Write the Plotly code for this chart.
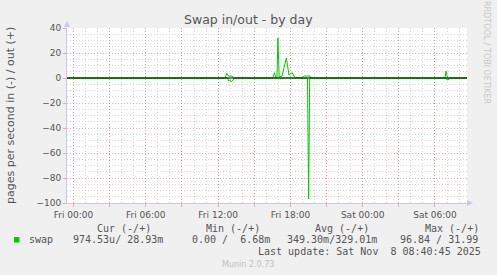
import plotly.graph_objects as go

# ---- data ----
out_times = [
    "2025-11-06 23:25", "2025-11-07 12:34", "2025-11-07 12:44", "2025-11-07 12:54",
    "2025-11-07 13:04", "2025-11-07 13:14", "2025-11-07 13:22", "2025-11-07 14:13",
    "2025-11-07 14:18", "2025-11-07 14:23", "2025-11-07 16:32", "2025-11-07 16:41",
    "2025-11-07 16:47", "2025-11-07 16:53", "2025-11-07 16:58", "2025-11-07 17:04",
    "2025-11-07 17:18", "2025-11-07 17:40", "2025-11-07 17:53", "2025-11-07 18:09",
    "2025-11-07 18:19", "2025-11-07 18:25", "2025-11-07 19:03", "2025-11-07 19:08",
    "2025-11-07 19:37", "2025-11-07 19:42", "2025-11-08 06:50", "2025-11-08 06:55",
    "2025-11-08 07:02", "2025-11-08 08:40",
]
out_vals = [
    0, 0, 3.7, 1.2,
    1.8, 0.6, 0, 0,
    0.5, 0, 0, 4.3,
    0.3, 0.3, 31.99, 1.0,
    1.5, 16.0, 2.4, 4.3,
    1.0, 0.5, 0.5, 1.6,
    1.6, 0, 0, 5.6,
    0, 0,
]

in_times = [
    "2025-11-06 23:25", "2025-11-07 07:10", "2025-11-07 07:15", "2025-11-07 07:20",
    "2025-11-07 12:48", "2025-11-07 12:52", "2025-11-07 12:58", "2025-11-07 13:05",
    "2025-11-07 13:12", "2025-11-07 13:18", "2025-11-07 13:24", "2025-11-07 19:25",
    "2025-11-07 19:31", "2025-11-07 19:36", "2025-11-08 06:56", "2025-11-08 07:00",
    "2025-11-08 07:10", "2025-11-08 07:13", "2025-11-08 08:40",
]
in_vals = [
    0, 0, 0.5, 0,
    0, 2.5, 1.5, 3.0,
    2.0, 1.2, 0, 0,
    96.84, 0, 0, 1.5,
    1.0, 0, 0,
]

tick_vals = [
    "2025-11-07 00:00", "2025-11-07 03:00", "2025-11-07 06:00", "2025-11-07 09:00",
    "2025-11-07 12:00", "2025-11-07 15:00", "2025-11-07 18:00", "2025-11-07 21:00",
    "2025-11-08 00:00", "2025-11-08 03:00", "2025-11-08 06:00",
]
tick_text = ["Fri 00:00", "", "Fri 06:00", "", "Fri 12:00", "", "Fri 18:00", "",
             "Sat 00:00", "", "Sat 06:00"]

legend_headers = ["Cur (-/+)", "Min (-/+)", "Avg (-/+)", "Max (-/+)"]
legend_values = ["974.53u/ 28.93m", "0.00 /  6.68m", "349.30m/329.01m", "96.84 / 31.99"]
series_name = "swap"
last_update = "Last update: Sat Nov  8 08:40:45 2025"

# ---- geometry helpers (pixel -> paper) ----
W, H = 497, 275
L, R, T, B = 67, 467, 28, 203


def px(x):
    return (x - L) / (R - L)


def py(y):
    return (B - y) / (B - T)


GREEN = "#00CC00"
TXT = "#555555"
MAJOR = "rgba(225,110,110,0.55)"
MINOR = "rgba(200,200,200,0.75)"
AXIS = "#C8C8F0"

fig = go.Figure()
fig.add_trace(go.Scatter(x=in_times, y=[-v for v in in_vals], mode="lines",
                         line=dict(color=GREEN, width=1), showlegend=False))
fig.add_trace(go.Scatter(x=out_times, y=out_vals, mode="lines",
                         line=dict(color=GREEN, width=1), showlegend=False))

fig.update_layout(
    width=W, height=H, autosize=False,
    margin=dict(l=L, r=W - R, t=T, b=H - B),
    paper_bgcolor="#F0F0F0", plot_bgcolor="#FFFFFF",
    font=dict(family="DejaVu Sans", color=TXT, size=9),
    showlegend=False,
)
fig.update_xaxes(
    range=["2025-11-06 23:27:36", "2025-11-08 08:39:24"],
    tickvals=tick_vals, ticktext=tick_text,
    showgrid=True, gridcolor=MAJOR, griddash="1px,2px", gridwidth=1,
    ticks="outside", ticklen=3, tickcolor=MAJOR,
    showline=True, linecolor=AXIS, linewidth=1,
    zeroline=False,
    tickfont=dict(size=9, color=TXT),
    minor=dict(dtick=3600000, tick0="2025-11-07 00:00", showgrid=True,
               gridcolor=MINOR, griddash="1px,2px", gridwidth=1),
)
fig.update_yaxes(
    range=[-100, 40], dtick=20, tick0=0,
    showgrid=True, gridcolor=MAJOR, griddash="1px,2px", gridwidth=1,
    ticks="outside", ticklen=3, tickcolor=MAJOR,
    showline=True, linecolor=AXIS, linewidth=1,
    zeroline=False,
    tickfont=dict(size=9, color=TXT),
    minor=dict(dtick=5, tick0=0, showgrid=True,
               gridcolor=MINOR, griddash="1px,2px", gridwidth=1),
)

shapes = [
    # zero rule
    dict(type="line", xref="paper", yref="y", x0=0, x1=1, y0=0, y1=0,
         line=dict(color="black", width=1), layer="above"),
    # axis arrows
    dict(type="path", xref="paper", yref="paper",
         path=f"M {px(64)} {py(27)} L {px(70)} {py(27)} L {px(67)} {py(21)} Z",
         fillcolor=AXIS, line=dict(width=0)),
    dict(type="path", xref="paper", yref="paper",
         path=f"M {px(467)} {py(200)} L {px(467)} {py(206)} L {px(473)} {py(203)} Z",
         fillcolor=AXIS, line=dict(width=0)),
    # legend colour box
    dict(type="rect", xref="paper", yref="paper",
         x0=px(14), x1=px(19.5), y0=py(242.5), y1=py(237),
         fillcolor=GREEN, line=dict(width=0)),
]
fig.update_layout(shapes=shapes)

ann = []
ann.append(dict(text="Swap in/out - by day", x=px(248.5), y=py(20), xref="paper", yref="paper",
                showarrow=False, font=dict(size=12.5, color=TXT, family="DejaVu Sans"),
                xanchor="center", yanchor="middle"))
ann.append(dict(text="pages per second in (-) / out (+)", x=px(10), y=py(116),
                xref="paper", yref="paper", showarrow=False, textangle=-90,
                font=dict(size=11, color=TXT, family="DejaVu Sans"),
                xanchor="center", yanchor="middle"))
ann.append(dict(text="RRDTOOL / TOBI OETIKER", x=px(487), y=py(52),
                xref="paper", yref="paper", showarrow=False, textangle=90,
                font=dict(size=8, color="#C8C8C8", family="DejaVu Sans"),
                xanchor="center", yanchor="middle"))

mono = dict(family="DejaVu Sans Mono", size=10, color=TXT)
for txt, x0 in zip(legend_headers, [95, 204, 313, 423]):
    ann.append(dict(text=txt.replace(" ", "&nbsp;"), x=px(x0), y=py(228), xref="paper", yref="paper",
                    showarrow=False, font=mono, xanchor="left", yanchor="middle"))
ann.append(dict(text=series_name, x=px(27), y=py(239.5), xref="paper", yref="paper",
                showarrow=False, font=mono, xanchor="left", yanchor="middle"))
for txt, x0 in zip(legend_values, [71, 190, 285, 398]):
    ann.append(dict(text=txt.replace(" ", "&nbsp;"), x=px(x0), y=py(239.5), xref="paper", yref="paper",
                    showarrow=False, font=mono, xanchor="left", yanchor="middle"))
ann.append(dict(text=last_update.replace(" ", "&nbsp;"), x=px(483), y=py(251.7),
                xref="paper", yref="paper", showarrow=False, font=mono,
                xanchor="right", yanchor="middle"))
ann.append(dict(text="Munin 2.0.73", x=px(248), y=py(264), xref="paper", yref="paper",
                showarrow=False, font=dict(family="DejaVu Sans", size=8, color="#C0C0C0"),
                xanchor="center", yanchor="middle"))
fig.update_layout(annotations=ann)

fig.write_html("out.html")
